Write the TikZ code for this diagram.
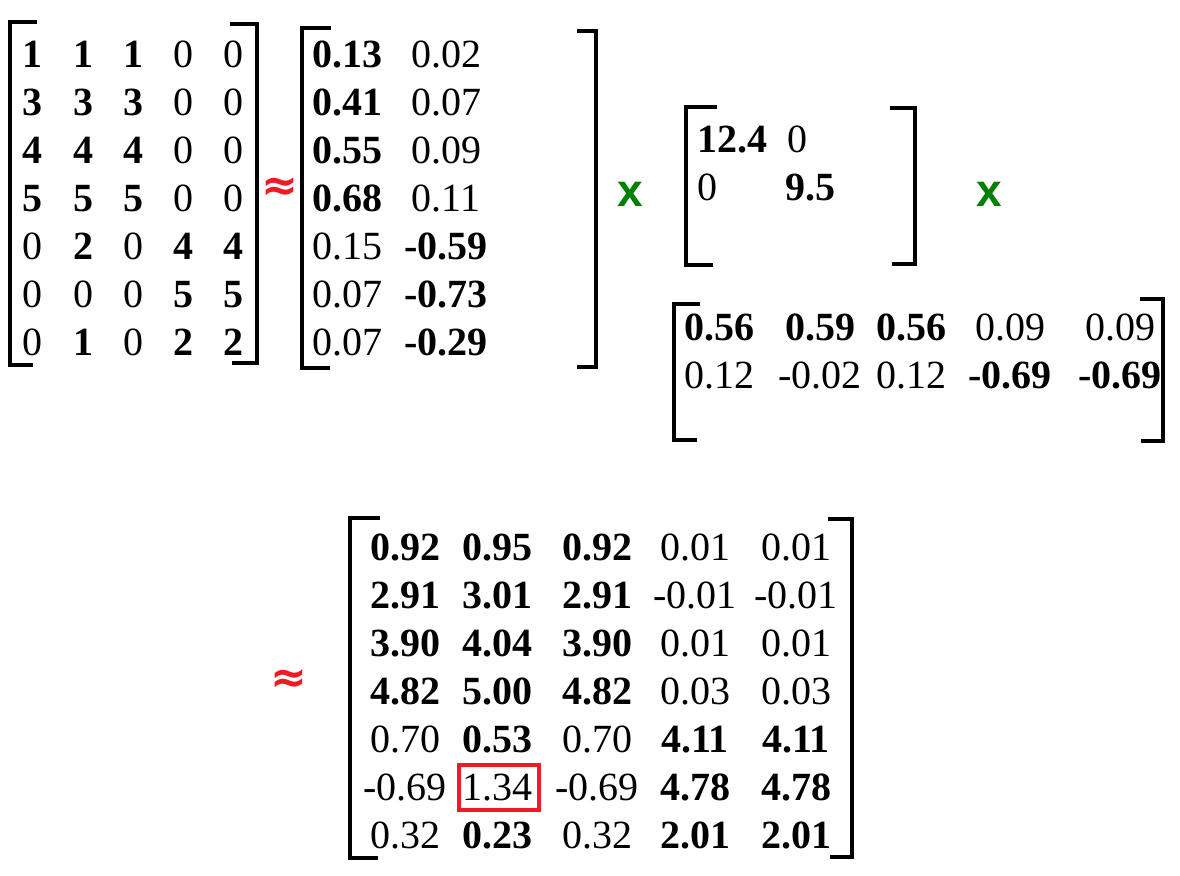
\documentclass[tikz,border=0pt]{standalone}
\usepackage{fontspec}
\setmainfont{Liberation Serif}
\newfontfamily\symfont{DejaVu Sans}
\newfontfamily\xfont{Liberation Sans}
\definecolor{opgreen}{RGB}{0,128,0}
\definecolor{opred}{RGB}{237,28,36}
\begin{document}
\begin{tikzpicture}[x=1pt,y=-1pt,
  ent/.style={inner sep=0pt,anchor=base,font=\fontsize{40}{48}\selectfont},
  bent/.style={inner sep=0pt,anchor=base,font=\fontsize{40}{48}\selectfont\bfseries},
  brk/.style={line width=4.5pt,line join=miter,black},
  approxsym/.style={inner sep=0pt,text=opred,font=\fontsize{44}{48}\symfont\bfseries},
  timessym/.style={inner sep=0pt,text=opgreen,font=\fontsize{46}{50}\xfont\bfseries}
]
\useasboundingbox (0,0) rectangle (1180,875);
\fill[white] (0,0) rectangle (1180,875);

% ---------- matrix A ----------
\def\acols{{32,83,133,183,233}}
\def\rows{{67,115,163,211,259,307,355}}
\foreach \t/\s [count=\c] in {1/bent,1/bent,1/bent,0/ent,0/ent}
  \node[\s] (a-1-\c) at ({\acols[\c-1]},{\rows[0]}) {\t};
\foreach \t/\s [count=\c] in {3/bent,3/bent,3/bent,0/ent,0/ent}
  \node[\s] (a-2-\c) at ({\acols[\c-1]},{\rows[1]}) {\t};
\foreach \t/\s [count=\c] in {4/bent,4/bent,4/bent,0/ent,0/ent}
  \node[\s] (a-3-\c) at ({\acols[\c-1]},{\rows[2]}) {\t};
\foreach \t/\s [count=\c] in {5/bent,5/bent,5/bent,0/ent,0/ent}
  \node[\s] (a-4-\c) at ({\acols[\c-1]},{\rows[3]}) {\t};
\foreach \t/\s [count=\c] in {0/ent,2/bent,0/ent,4/bent,4/bent}
  \node[\s] (a-5-\c) at ({\acols[\c-1]},{\rows[4]}) {\t};
\foreach \t/\s [count=\c] in {0/ent,0/ent,0/ent,5/bent,5/bent}
  \node[\s] (a-6-\c) at ({\acols[\c-1]},{\rows[5]}) {\t};
\foreach \t/\s [count=\c] in {0/ent,1/bent,0/ent,2/bent,2/bent}
  \node[\s] (a-7-\c) at ({\acols[\c-1]},{\rows[6]}) {\t};
\draw[brk] (37,22) -- (10,22) -- (10,365) -- (33,365);
\draw[brk] (230,24) -- (257,24) -- (257,363) -- (232,363);

% first approx
\node[approxsym] (ap1) at (280,189) {≈};

% ---------- matrix U ----------
\foreach \t/\s [count=\r] in {0.13/bent,0.41/bent,0.55/bent,0.68/bent,0.15/ent,0.07/ent,0.07/ent}
  \node[\s] (u-\r-1) at (347,{\rows[\r-1]}) {\t};
\foreach \t/\s [count=\r] in {0.02/ent,0.07/ent,0.09/ent,0.11/ent,-0.59/bent,-0.73/bent,-0.29/bent}
  \node[\s] (u-\r-2) at (446,{\rows[\r-1]}) {\t};
\draw[brk] (331,28) -- (302,28) -- (302,368) -- (330,368);
\draw[brk] (577,31) -- (596,31) -- (596,367) -- (577,367);

% first times
\node[timessym] (x1) at (630,194) {x};

% ---------- matrix Sigma ----------
\node[bent,anchor=base west] (s-1-1) at (697,152) {12.4};
\node[ent,anchor=base west] (s-1-2) at (787,152) {0};
\node[ent,anchor=base west] (s-2-1) at (697,200) {0};
\node[bent,anchor=base west] (s-2-2) at (785,200) {9.5};
\draw[brk] (717,107) -- (686,107) -- (686,265) -- (713,265);
\draw[brk] (890,108) -- (915,108) -- (915,264) -- (892,264);

% second times
\node[timessym] (x2) at (989,194) {x};

% ---------- matrix V^T ----------
\def\vcols{{719,820,911,1010,1120}}
\foreach \t/\s [count=\c] in {0.56/bent,0.59/bent,0.56/bent,0.09/ent,0.09/ent}
  \node[\s] (v-1-\c) at ({\vcols[\c-1]},340) {\t};
\foreach \t/\s [count=\c] in {0.12/ent,-0.02/ent,0.12/ent,-0.69/bent,-0.69/bent}
  \node[\s] (v-2-\c) at ({\vcols[\c-1]},388) {\t};
\draw[brk] (700,304) -- (674,304) -- (674,440) -- (697,440);
\draw[brk] (1140,299) -- (1163,299) -- (1163,441) -- (1141,441);

% second approx
\node[approxsym] (ap2) at (289,681) {≈};

% ---------- product matrix ----------
\def\pcols{{405,497,597,695,796}}
\def\prows{{560,608,656,704,752,800,848}}
\foreach \t/\s [count=\c] in {0.92/bent,0.95/bent,0.92/bent,0.01/ent,0.01/ent}
  \node[\s] (p-1-\c) at ({\pcols[\c-1]},{\prows[0]}) {\t};
\foreach \t/\s [count=\c] in {2.91/bent,3.01/bent,2.91/bent,-0.01/ent,-0.01/ent}
  \node[\s] (p-2-\c) at ({\pcols[\c-1]},{\prows[1]}) {\t};
\foreach \t/\s [count=\c] in {3.90/bent,4.04/bent,3.90/bent,0.01/ent,0.01/ent}
  \node[\s] (p-3-\c) at ({\pcols[\c-1]},{\prows[2]}) {\t};
\foreach \t/\s [count=\c] in {4.82/bent,5.00/bent,4.82/bent,0.03/ent,0.03/ent}
  \node[\s] (p-4-\c) at ({\pcols[\c-1]},{\prows[3]}) {\t};
\foreach \t/\s [count=\c] in {0.70/ent,0.53/bent,0.70/ent,4.11/bent,4.11/bent}
  \node[\s] (p-5-\c) at ({\pcols[\c-1]},{\prows[4]}) {\t};
\foreach \t/\s [count=\c] in {-0.69/ent,1.34/ent,-0.69/ent,4.78/bent,4.78/bent}
  \node[\s] (p-6-\c) at ({\pcols[\c-1]},{\prows[5]}) {\t};
\foreach \t/\s [count=\c] in {0.32/ent,0.23/bent,0.32/ent,2.01/bent,2.01/bent}
  \node[\s] (p-7-\c) at ({\pcols[\c-1]},{\prows[6]}) {\t};
\draw[brk] (380,518) -- (350,518) -- (350,858) -- (378,858);
\draw[brk] (828,519) -- (852,519) -- (852,857) -- (830,857);

% highlight box
\draw[opred,line width=4.5pt] (459,765) rectangle (539,810);
\end{tikzpicture}
\end{document}
